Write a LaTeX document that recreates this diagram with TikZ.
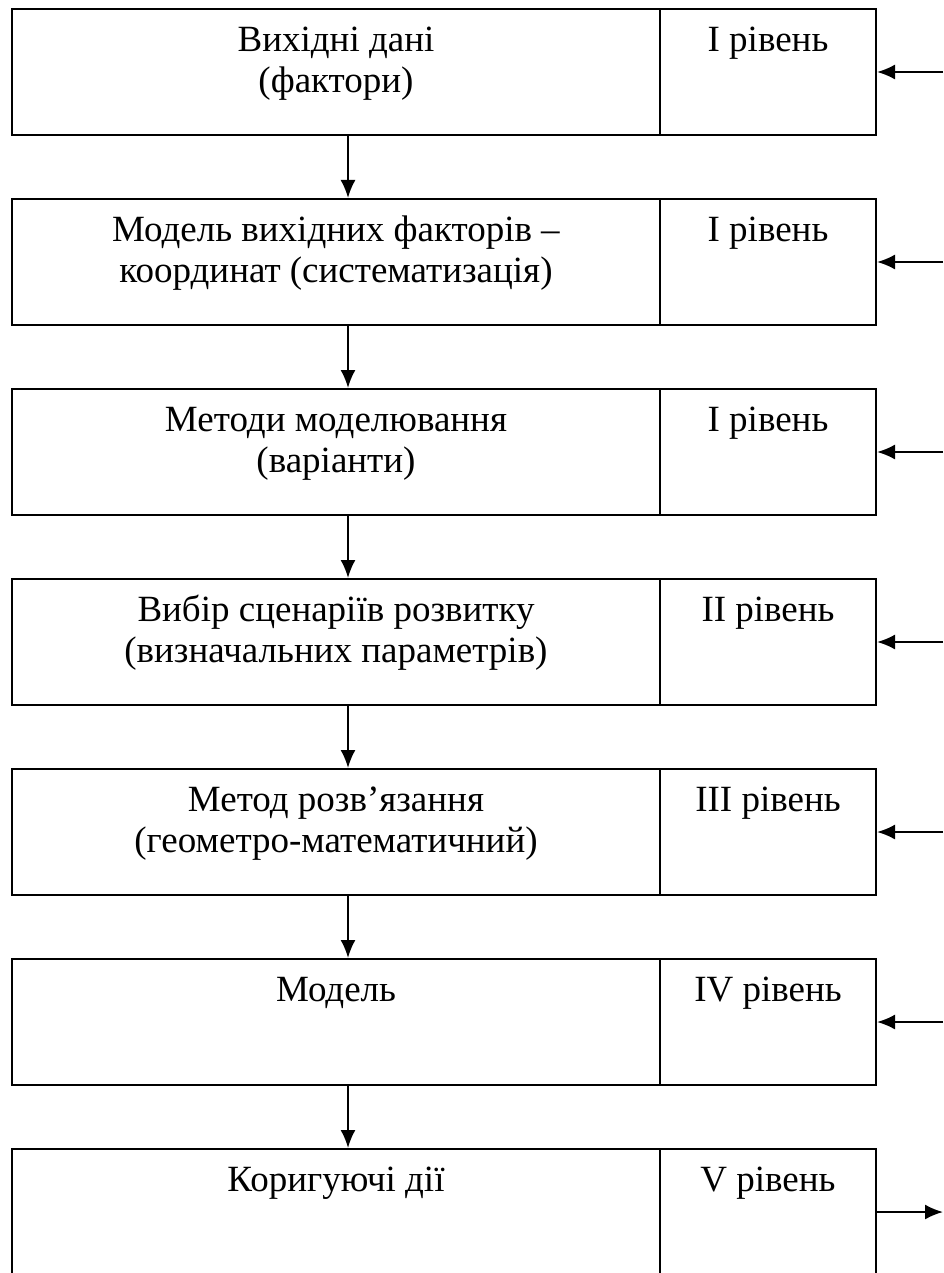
\documentclass[tikz,border=0pt]{standalone}
\usepackage{fontspec}
\setmainfont{Liberation Serif}
\usetikzlibrary{arrows.meta,positioning}

\begin{document}
\begin{tikzpicture}[x=1pt, y=1pt,
	blok/.style={draw, line width=2pt, minimum width=648pt, minimum height=126pt, inner sep=0pt},
	riven/.style={draw, line width=2pt, minimum width=216pt, minimum height=126pt, inner sep=0pt},
	txt/.style={inner sep=0pt, align=center, font=\fontsize{37}{41.5}\selectfont},
	strilka/.style={line width=2pt, -{Latex[length=18pt, width=15pt]}}]
	\useasboundingbox (0, 0) rectangle (943, -1273);
	% Boxes and levels:
	\node[blok] (b1) at (336, -72){};
	\node[riven] (r1) at (768, -72){};
	\node[blok] (b2) at (336, -262){};
	\node[riven] (r2) at (768, -262){};
	\node[blok] (b3) at (336, -452){};
	\node[riven] (r3) at (768, -452){};
	\node[blok] (b4) at (336, -642){};
	\node[riven] (r4) at (768, -642){};
	\node[blok] (b5) at (336, -832){};
	\node[riven] (r5) at (768, -832){};
	\node[blok] (b6) at (336, -1022){};
	\node[riven] (r6) at (768, -1022){};
	\node[blok] (b7) at (336, -1212){};
	\node[riven] (r7) at (768, -1212){};
	% Texts:
	\node[txt, below=14pt of b1.north] (t1){\strut Вихідні дані\\(фактори)};
	\node[txt, below=14pt of b2.north] (t2){\strut Модель вихідних факторів –\\координат (систематизація)};
	\node[txt, below=14pt of b3.north] (t3){\strut Методи моделювання\\(варіанти)};
	\node[txt, below=14pt of b4.north] (t4){\strut Вибір сценаріїв розвитку\\(визначальних параметрів)};
	\node[txt, below=14pt of b5.north] (t5){\strut Метод розв’язання\\(геометро-математичний)};
	\node[txt, below=14pt of b6.north] (t6){\strut Модель};
	\node[txt, below=14pt of b7.north] (t7){\strut Коригуючі дії};
	\node[txt, below=14pt of r1.north] (l1){\strut I рівень};
	\node[txt, below=14pt of r2.north] (l2){\strut I рівень};
	\node[txt, below=14pt of r3.north] (l3){\strut I рівень};
	\node[txt, below=14pt of r4.north] (l4){\strut II рівень};
	\node[txt, below=14pt of r5.north] (l5){\strut III рівень};
	\node[txt, below=14pt of r6.north] (l6){\strut IV рівень};
	\node[txt, below=14pt of r7.north] (l7){\strut V рівень};
	% Arrows down:
	\draw[strilka] ([xshift=12pt]b1.south) -- ([xshift=12pt]b2.north);
	\draw[strilka] ([xshift=12pt]b2.south) -- ([xshift=12pt]b3.north);
	\draw[strilka] ([xshift=12pt]b3.south) -- ([xshift=12pt]b4.north);
	\draw[strilka] ([xshift=12pt]b4.south) -- ([xshift=12pt]b5.north);
	\draw[strilka] ([xshift=12pt]b5.south) -- ([xshift=12pt]b6.north);
	\draw[strilka] ([xshift=12pt]b6.south) -- ([xshift=12pt]b7.north);
	% Arrows at the right side:
	\coordinate (s1) at (943, -72);
	\coordinate (s2) at (943, -262);
	\coordinate (s3) at (943, -452);
	\coordinate (s4) at (943, -642);
	\coordinate (s5) at (943, -832);
	\coordinate (s6) at (943, -1022);
	\coordinate (s7) at (943, -1212);
	\draw[strilka] (s1) -- (r1.east);
	\draw[strilka] (s2) -- (r2.east);
	\draw[strilka] (s3) -- (r3.east);
	\draw[strilka] (s4) -- (r4.east);
	\draw[strilka] (s5) -- (r5.east);
	\draw[strilka] (s6) -- (r6.east);
	\draw[strilka] (r7.east) -- (s7);
\end{tikzpicture}
\end{document}
